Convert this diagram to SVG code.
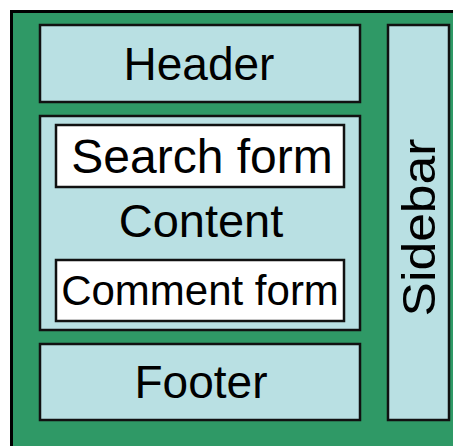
<svg xmlns="http://www.w3.org/2000/svg" width="453" height="446" viewBox="0 0 453 446">
<style>
.box{fill:#b9e0e3;stroke:#111;stroke-width:2.5}
.form{fill:#ffffff;stroke:#111;stroke-width:2.5}
.t{font-family:"Liberation Sans",Arial,sans-serif;fill:#000;text-anchor:middle}
</style>
<rect x="0" y="0" width="453" height="446" fill="#ffffff"/>
<rect id="page" x="11.5" y="11.5" width="460" height="460" fill="#2f9966" stroke="#000" stroke-width="3"/>
<g id="header">
<rect class="box" x="40" y="25" width="320" height="77"/>
<text class="t" x="199" y="80" font-size="46">Header</text>
</g>
<g id="content">
<rect class="box" x="40" y="116" width="320" height="214"/>
<text class="t" x="201" y="237" font-size="47">Content</text>
</g>
<g id="search-form">
<rect class="form" x="56" y="125" width="288" height="62"/>
<text class="t" x="202" y="173" font-size="48">Search form</text>
</g>
<g id="comment-form">
<rect class="form" x="56" y="260" width="288" height="61"/>
<text class="t" x="200" y="305" font-size="42">Comment form</text>
</g>
<g id="footer">
<rect class="box" x="40" y="344" width="320" height="76"/>
<text class="t" x="201" y="398" font-size="46">Footer</text>
</g>
<g id="sidebar">
<rect class="box" x="388" y="25" width="61" height="395"/>
<text class="t" x="435" y="227.5" font-size="47" textLength="178" lengthAdjust="spacingAndGlyphs" transform="rotate(-90 435 227.5)">Sidebar</text>
</g>
<g id="connectors"></g>
</svg>
